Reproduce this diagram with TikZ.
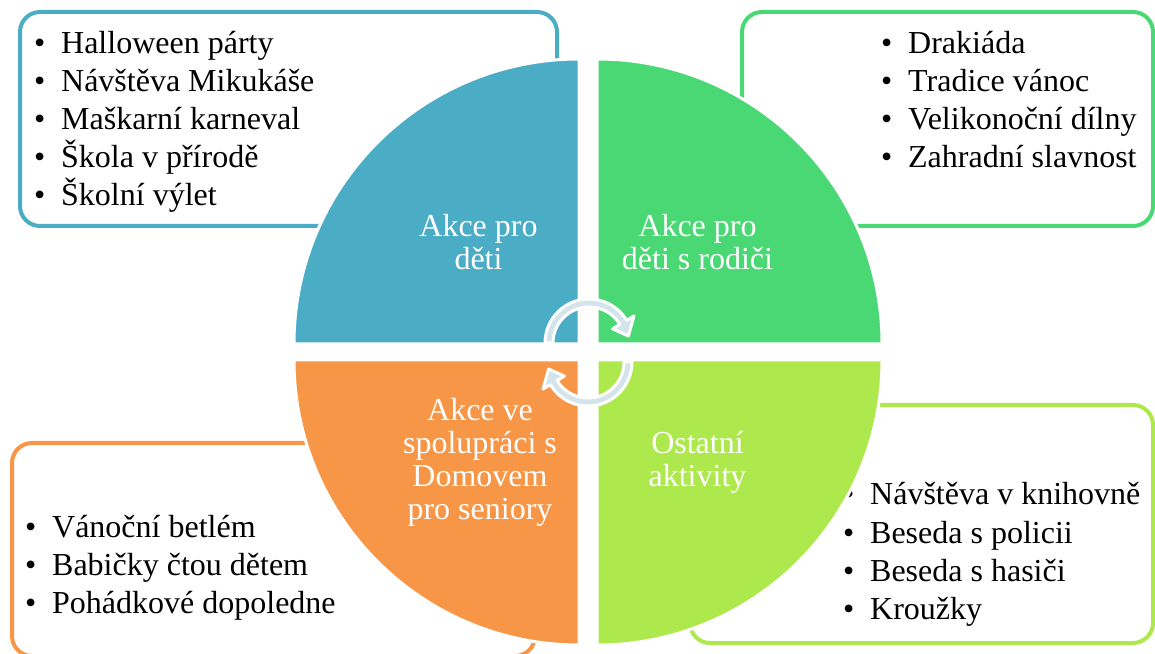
\documentclass[tikz,border=0pt]{standalone}
\usepackage{fontspec}
\setmainfont{Liberation Serif}
\definecolor{cblue}{HTML}{4BACC6}
\definecolor{cgreen}{HTML}{4AD874}
\definecolor{clime}{HTML}{ADE94C}
\definecolor{corange}{HTML}{F79646}
\definecolor{carrow}{HTML}{D3E4EB}
\newcommand\mybul{\makebox[27pt][l]{•}}
\begin{document}
\begin{tikzpicture}[x=1pt,y=1pt,
  box/.style={draw, line width=4pt, rounded corners=20pt, fill=white, inner sep=0pt},
  item/.style={anchor=base west, inner sep=0pt, font=\fontsize{32}{38}\selectfont},
  lab/.style={anchor=base, inner sep=0pt, text=white, font=\fontsize{32}{33}\selectfont},
  quad/.style={draw=white, line width=3pt, line join=miter},
  circarrow/.style={fill=carrow, draw=white, line width=3pt, line join=round}]
\useasboundingbox (0,0) rectangle (1155,653);
% boxes
\node[box, draw=cblue, minimum width=537pt, minimum height=214pt] (boxTL) at (288.5,534) {};
\node[box, draw=cgreen, minimum width=411pt, minimum height=214pt] (boxTR) at (947.5,534) {};
\node[box, draw=clime, minimum width=463pt, minimum height=238pt] (boxBR) at (921.5,129) {};
\node[box, draw=corange, minimum width=523pt, minimum height=213pt] (boxBL) at (273.5,103.5) {};
% box texts
\foreach \t [count=\i from 0] in {Halloween párty, Návštěva Mikukáše, Maškarní karneval, Škola v přírodě, Školní výlet}
  \node[item] (tl\i) at (34,599-38*\i) {\mybul\t};
\foreach \t [count=\i from 0] in {Drakiáda, Tradice vánoc, Velikonoční dílny, Zahradní slavnost}
  \node[item] (tr\i) at (881,599-38*\i) {\mybul\t};
\foreach \t [count=\i from 0] in {Návštěva v knihovně, Beseda s policii, Beseda s hasiči, Kroužky}
  \node[item] (br\i) at (843,148-38.3*\i) {\mybul\t};
\foreach \t [count=\i from 0] in {Vánoční betlém, Babičky čtou dětem, Pohádkové dopoledne}
  \node[item] (bl\i) at (25,116-38*\i) {\mybul\t};
% quadrants
\path[quad, fill=cblue] (579,309) -- ++(-285,0) arc[start angle=180, end angle=90, radius=285] -- cycle;
\path[quad, fill=cgreen] (597,309) -- ++(0,285) arc[start angle=90, end angle=0, radius=285] -- cycle;
\path[quad, fill=corange] (579,293) -- ++(0,-285) arc[start angle=270, end angle=180, radius=285] -- cycle;
\path[quad, fill=clime] (597,293) -- ++(285,0) arc[start angle=0, end angle=-90, radius=285] -- cycle;
% labels
\node[lab] (tlA) at (478.5,416) {Akce pro};
\node[lab] (tlB) at (478.5,383.5) {děti};
\node[lab] (trA) at (697.5,416) {Akce pro};
\node[lab] (trB) at (697.5,383.5) {děti s rodiči};
\node[lab] (blA) at (480,232.3) {Akce ve};
\node[lab] (blB) at (480,199.1) {spolupráci s};
\node[lab] (blC) at (480,166.3) {Domovem};
\node[lab] (blD) at (480,134) {pro seniory};
\node[lab] (brA) at (697.5,199.1) {Ostatní};
\node[lab] (brB) at (697.5,166.3) {aktivity};
% circular arrows
\begin{scope}[shift={(589,310)}]
\path[circarrow] (180:44) arc[start angle=180,end angle=31,radius=44] -- (31:52.5) -- (10:40) -- (31:27.5) -- (31:36) arc[start angle=31,end angle=180,radius=36] -- cycle;
\end{scope}
\begin{scope}[shift={(588,291)}]
\path[circarrow] (0:44) arc[start angle=0,end angle=-149,radius=44] -- (211:52.5) -- (190:40) -- (211:27.5) -- (211:36) arc[start angle=-149,end angle=0,radius=36] -- cycle;
\end{scope}
\end{tikzpicture}
\end{document}
